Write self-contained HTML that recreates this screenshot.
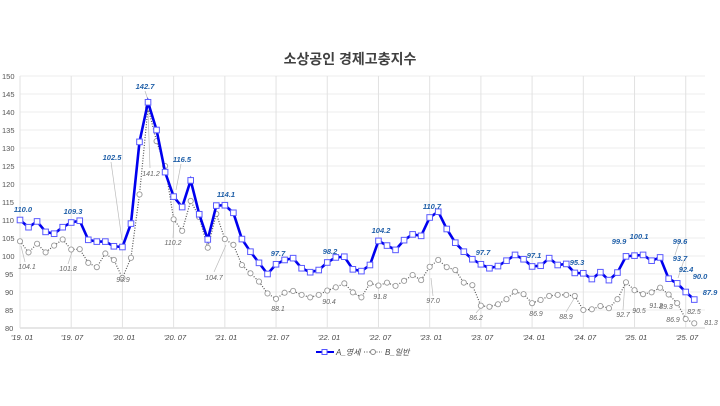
<!DOCTYPE html>
<html><head><meta charset="utf-8"><style>
body{margin:0;background:#fff;width:720px;height:406px;overflow:hidden}
svg{display:block;font-family:"Liberation Sans","Noto Sans CJK KR",sans-serif}
.yl{font-size:7.5px;fill:#555}
.xl{font-size:7.5px;fill:#444;font-style:italic}
.la{font-size:7.5px;fill:#1f5fa8;font-weight:bold;font-style:italic}
.lb{font-size:7px;fill:#666;font-style:italic}
</style></head><body>
<svg id="s" width="720" height="406" viewBox="0 0 720 406">
<text x="350" y="64" text-anchor="middle" font-size="14" font-weight="bold" fill="#404040">소상공인 경제고충지수</text>
<g id="grid"></g>
<g class="yl">
<text x="2" y="79">150</text><text x="2" y="97">145</text><text x="2" y="115">140</text><text x="2" y="133">135</text><text x="2" y="151">130</text><text x="2" y="169">125</text><text x="2" y="187">120</text><text x="2" y="205">115</text><text x="2" y="223">110</text><text x="2" y="241">105</text><text x="2" y="259">100</text><text x="5" y="277">95</text><text x="5" y="295">90</text><text x="5" y="313">85</text><text x="5" y="331">80</text>
</g>
<g class="xl" text-anchor="middle">
<text x="22" y="340">'19. 01</text><text x="72" y="340">'19. 07</text><text x="124" y="340">'20. 01</text><text x="175" y="340">'20. 07</text><text x="226" y="340">'21. 01</text><text x="278" y="340">'21. 07</text><text x="329" y="340">'22. 01</text><text x="380" y="340">'22. 07</text><text x="431" y="340">'23. 01</text><text x="482" y="340">'23. 07</text><text x="534" y="340">'24. 01</text><text x="585" y="340">'24. 07</text><text x="636" y="340">'25. 01</text><text x="687" y="340">'25. 07</text>
</g>
<g stroke="#bbb" stroke-width="0.7" fill="none">
<line x1="111" y1="162" x2="122" y2="240"/><line x1="145" y1="91" x2="148" y2="100"/><line x1="150" y1="168" x2="148" y2="110"/>
<line x1="181" y1="164" x2="176" y2="190"/><line x1="173" y1="238" x2="174" y2="220"/><line x1="214" y1="272" x2="226" y2="245"/>
<line x1="25" y1="262" x2="21" y2="246"/><line x1="68" y1="264" x2="72" y2="252"/><line x1="433" y1="296" x2="431" y2="278"/>
<line x1="476" y1="313" x2="483" y2="305"/><line x1="566" y1="312" x2="575" y2="297"/><line x1="623" y1="310" x2="625" y2="283"/>
<line x1="680" y1="240" x2="675" y2="255"/><line x1="684" y1="260" x2="678" y2="278"/>
</g>
<g id="series"></g>
<g class="la" text-anchor="middle">
<text x="23" y="212">110.0</text><text x="73" y="214">109.3</text><text x="112" y="160">102.5</text><text x="145" y="89">142.7</text><text x="182" y="162">116.5</text><text x="226" y="197">114.1</text>
<text x="278" y="256">97.7</text><text x="330" y="254">98.2</text><text x="381" y="233">104.2</text><text x="432" y="209">110.7</text><text x="483" y="255">97.7</text>
<text x="534" y="258">97.1</text><text x="577" y="265">95.3</text><text x="619" y="244">99.9</text><text x="639" y="239">100.1</text><text x="680" y="244">99.6</text><text x="680" y="261">93.7</text><text x="686" y="272">92.4</text><text x="700" y="279">90.0</text><text x="710" y="295">87.9</text>
</g>
<g class="lb" text-anchor="middle">
<text x="27" y="269">104.1</text><text x="68" y="271">101.8</text><text x="123" y="282">93.9</text><text x="151" y="176">141.2</text><text x="173" y="245">110.2</text><text x="214" y="280">104.7</text>
<text x="278" y="311">88.1</text><text x="329" y="304">90.4</text><text x="380" y="299">91.8</text><text x="433" y="303">97.0</text><text x="476" y="320">86.2</text>
<text x="536" y="316">86.9</text><text x="566" y="319">88.9</text><text x="623" y="317">92.7</text><text x="639" y="313">90.5</text><text x="656" y="308">91.2</text><text x="666" y="309">89.3</text><text x="673" y="322">86.9</text><text x="694" y="314">82.5</text><text x="711" y="325">81.3</text>
</g>
<g>
<line x1="316" y1="352" x2="334" y2="352" stroke="#0000ee" stroke-width="2"/><rect x="322" y="349.5" width="5" height="5" fill="#fff" stroke="#5555ff"/>
<text x="336" y="355" font-size="8" font-style="italic" fill="#444">A_영세</text>
<line x1="364" y1="352" x2="382" y2="352" stroke="#555" stroke-dasharray="1,1.5"/><circle cx="373" cy="352" r="2.5" fill="#fff" stroke="#888"/>
<text x="385" y="355" font-size="8" font-style="italic" fill="#444">B_일반</text>
</g>
</svg>
<script>
var A=[110.0,108,109.6,106.7,106.2,108,109.3,109.8,104.5,104,104,102.7,
102.5,109,131.7,142.7,135,123.3,116.5,113.6,121,111.6,104.6,114,
114.1,112,104.7,101.2,98.1,95,97.7,98.9,99.4,96.6,95.5,96.1,
98.2,99.6,99.8,96.3,95.8,97.5,104.2,102.9,101.7,104.4,106,105.6,
110.7,112.3,107.5,103.7,101.2,99.1,97.7,96.6,97.2,98.7,100.3,99.1,
97.1,97.3,99.4,97.5,97.8,95.3,95.2,93.6,95.5,93.3,95.4,99.9,
100.1,100.3,98.7,99.6,93.7,92.4,90.0,87.9];
var B=[104.1,101,103.4,101,102.9,104.6,101.8,101.9,98.1,96.9,100.7,98.9,
93.9,99.5,117.1,141.2,131.9,125,110.2,107,115.3,110.8,102.3,111.7,
104.7,103.1,97.5,95.2,92.9,89.6,88.1,89.8,90.3,89.2,88.5,89.2,
90.4,91.3,92.4,89.9,88.5,92.4,91.8,92.6,91.7,93.1,94.7,93.3,
97.0,98.9,96.9,96.1,92.6,91.9,86.2,85.9,86.6,88,90.1,89.4,
86.9,87.8,88.9,89.2,89.2,88.9,85,85.2,86.1,85.5,88,92.7,
90.5,89.4,89.9,91.2,89.3,86.9,82.5,81.3];
var NS="http://www.w3.org/2000/svg";
function X(i){return 20+i*8.535}function Y(v){return 328-(v-80)*3.6}
function el(t,a,p){var e=document.createElementNS(NS,t);for(var k in a)e.setAttribute(k,a[k]);p.appendChild(e);return e}
var g=document.getElementById('grid'),s=document.getElementById('series');
for(var v=80;v<=150;v+=5)el('line',{x1:20,x2:705,y1:Y(v),y2:Y(v),stroke:v==80?'#ccc':'#ececec','stroke-width':1},g);
for(var i=0;i<80;i+=6)el('line',{x1:X(i),x2:X(i),y1:Y(150),y2:Y(80),stroke:'#e2e2e2','stroke-width':1},g);
var pb=B.map(function(v,i){return X(i)+','+Y(v)}).join(' ');
el('polyline',{points:pb,fill:'none',stroke:'#555','stroke-width':1.2,'stroke-dasharray':'1,1.6'},s);
B.forEach(function(v,i){el('circle',{cx:X(i),cy:Y(v),r:2.6,fill:'#fff',stroke:'#999','stroke-width':0.9},s)});
var pa=A.map(function(v,i){return X(i)+','+Y(v)}).join(' ');
el('polyline',{points:pa,fill:'none',stroke:'#0000ee','stroke-width':2.6},s);
A.forEach(function(v,i){el('rect',{x:X(i)-2.8,y:Y(v)-2.8,width:5.6,height:5.6,fill:'#fff',stroke:'#5a5aff','stroke-width':1},s)});
</script>
</body></html>
